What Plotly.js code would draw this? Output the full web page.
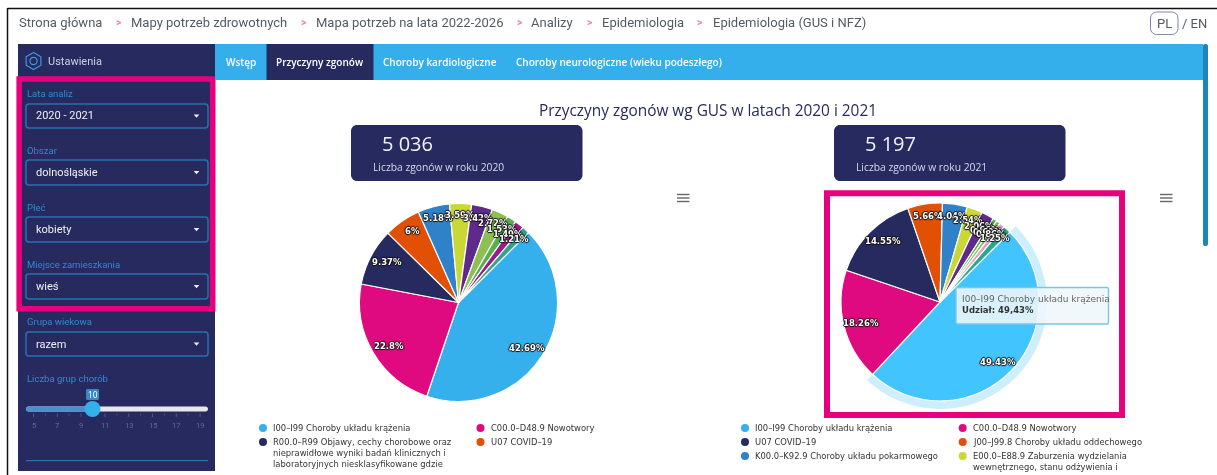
<!DOCTYPE html>
<html><head><meta charset="utf-8">
<script src="https://cdn.plot.ly/plotly-3.0.1.min.js"></script>
<style>html,body{margin:0;padding:0;background:#fff;overflow:hidden}#chart{filter:blur(0.4px)}</style>
</head><body><div id="chart" style="width:1217px;height:475px"></div>
<script>
// ---- data ----
const breadcrumb = ["Strona główna","Mapy potrzeb zdrowotnych","Mapa potrzeb na lata 2022-2026","Analizy","Epidemiologia","Epidemiologia (GUS i NFZ)"];
const tabs = ["Wstęp","Przyczyny zgonów","Choroby kardiologiczne","Choroby neurologiczne (wieku podeszłego)"];
const filterLabels = ["Lata analiz","Obszar","Płeć","Miejsce zamieszkania","Grupa wiekowa"];
const filterValues = ["2020 - 2021","dolnośląskie","kobiety","wieś","razem"];
const sliderTicks = [5,7,9,11,13,15,17,19];
const totals = ["5 036","5 197"];
const totalLabels = ["Liczba zgonów w roku 2020","Liczba zgonów w roku 2021"];
const values2020 = [42.69,22.8,9.37,6,5.18,3.59,3.42,2.72,1.53,1.49,1.21];
const values2021 = [49.43,18.26,14.55,5.66,4.04,2.54,2.06,0.66,0.69,0.86,1.25];
const colors2020 = ["#35b0ec","#df0a7f","#272a5f","#e25005","#2f82c8","#cbd637","#5e2a8c","#8cc152","#55b04d","#9c1a8c","#2ca58d"];
const colors2021 = ["#42c5ff","#df0a7f","#272a5f","#e25005","#2f82c8","#cbd637","#5e2a8c","#55b04d","#8cc152","#d8a0d0","#2ca58d"];
const legend2020 = [["I00–I99 Choroby układu krążenia"],["C00.0–D48.9 Nowotwory"],["R00.0–R99 Objawy, cechy chorobowe oraz","nieprawidłowe wyniki badań klinicznych i","laboratoryjnych niesklasyfikowane gdzie"],["U07 COVID–19"]];
const legend2020Colors = ["#35b0ec","#df0a7f","#272a5f","#e25005"];
const legend2021 = [["I00–I99 Choroby układu krążenia"],["C00.0–D48.9 Nowotwory"],["U07 COVID–19"],["J00–J99.8 Choroby układu oddechowego"],["K00.0–K92.9 Choroby układu pokarmowego"],["E00.0–E88.9 Zaburzenia wydzielania","wewnętrznego, stanu odżywienia i"]];
const legend2021Colors = ["#35b0ec","#df0a7f","#272a5f","#e25005","#2f82c8","#cbd637"];
const tooltipLines = ["I00–I99 Choroby układu krążenia","Udział: 49,43%"];

// ---- page helpers ----
const W=1217,H=475;
const px=x=>x/W, py=y=>1-y/H;
const shapes=[],ann=[];
const NAVY="#272a5f",SKY="#35afec",PINK="#e6007e",BLUE="#2a6fb0";
const ROB="Roboto, sans-serif",OS="'Open Sans', sans-serif",DJ="'DejaVu Sans', sans-serif";
function rect(x0,y0,x1,y1,fill,line,lw){shapes.push({type:'rect',xref:'paper',yref:'paper',x0:px(x0),x1:px(x1),y0:py(y1),y1:py(y0),fillcolor:fill||'rgba(0,0,0,0)',line:{color:line||'rgba(0,0,0,0)',width:lw||0},layer:'below'});}
function rr(x0,y0,x1,y1,r,fill,line,lw,layer){const X=a=>px(a).toFixed(5),Y=a=>py(a).toFixed(5);
 const k=r*0.45;
 const d=`M${X(x0+r)},${Y(y0)}L${X(x1-r)},${Y(y0)}C${X(x1-k)},${Y(y0)} ${X(x1)},${Y(y0+k)} ${X(x1)},${Y(y0+r)}L${X(x1)},${Y(y1-r)}C${X(x1)},${Y(y1-k)} ${X(x1-k)},${Y(y1)} ${X(x1-r)},${Y(y1)}L${X(x0+r)},${Y(y1)}C${X(x0+k)},${Y(y1)} ${X(x0)},${Y(y1-k)} ${X(x0)},${Y(y1-r)}L${X(x0)},${Y(y0+r)}C${X(x0)},${Y(y0+k)} ${X(x0+k)},${Y(y0)} ${X(x0+r)},${Y(y0)}Z`;
 shapes.push({type:'path',xref:'paper',yref:'paper',path:d,fillcolor:fill||'rgba(0,0,0,0)',line:{color:line||'rgba(0,0,0,0)',width:lw||0},layer:layer||'below'});}
function circle(cx,cy,r,fill,line,lw,layer){shapes.push({type:'circle',xref:'paper',yref:'paper',x0:px(cx-r),x1:px(cx+r),y0:py(cy+r),y1:py(cy-r),fillcolor:fill||'rgba(0,0,0,0)',line:{color:line||'rgba(0,0,0,0)',width:lw||0},layer:layer||'below'});}
function seg(x0,y0,x1,y1,color,w,layer){shapes.push({type:'line',xref:'paper',yref:'paper',x0:px(x0),x1:px(x1),y0:py(y0),y1:py(y1),line:{color,width:w},layer:layer||'below'});}
function tri(cx,cy,s,color){const d=`M${px(cx-s)},${py(cy-s*0.55)}L${px(cx+s)},${py(cy-s*0.55)}L${px(cx)},${py(cy+s*0.6)}Z`;shapes.push({type:'path',xref:'paper',yref:'paper',path:d,fillcolor:color,line:{width:0},layer:'below'});}
function T(text,x,y,size,color,family,anchor,weight,shadow){ann.push({text,x:px(x),y:py(y),xref:'paper',yref:'paper',showarrow:false,xanchor:anchor||'left',yanchor:'middle',borderpad:0,font:{size,color,family,weight:weight||400,shadow:shadow||'none'}});}

// ---- frame + breadcrumb ----
seg(7.5,8.5,W,8.5,"#111",1.5);
seg(7.5,8,7.5,H,"#111",1.5);
const crumbX=[18,130,315,530,601,711.5], sepX=[115,300,516,586,696];
breadcrumb.forEach((b,i)=>T(b,crumbX[i],22.5,13,"#555b63",ROB));
sepX.forEach(x=>T(">",x,22.5,10.5,"#ee82b8",ROB,'left',700));
rr(1150.5,12,1178,34.5,6,null,"#7f86ad",1);
T("PL",1164.2,23.5,13,"#555b63",ROB,'center');
T("/ EN",1181,23.5,13,"#555b63",ROB);

// ---- sidebar ----
rect(18,44,215,471,NAVY);
// gear icon: hexagon outline, teeth ring, hub
(function(){const c=[33.5,61];let d="";for(let i=0;i<6;i++){const a=Math.PI/6+i*Math.PI/3;d+=(i?"L":"M")+px(c[0]+8.5*Math.cos(a))+","+py(c[1]+8.5*Math.sin(a));}
 shapes.push({type:'path',xref:'paper',yref:'paper',path:d+"Z",fillcolor:'rgba(0,0,0,0)',line:{color:"#3f97d8",width:1.2},layer:'below'});})();
circle(33.5,61,3.6,null,"#3f97d8",1.2);
T("Ustawienia",47,61.5,11,"#cdd0e4",ROB);
const labY=[93,150,207,264,321], boxY=[[104,128],[160,185],[217,242],[274,299],[332,356]];
filterLabels.forEach((l,i)=>{
 T(l,26,labY[i],9.5,"#2f8ad0",ROB);
 rr(26,boxY[i][0],208,boxY[i][1],3,null,BLUE,1.5);
 T(filterValues[i],35,(boxY[i][0]+boxY[i][1])/2,11,"#f0f0f6",ROB);
 tri(196.5,(boxY[i][0]+boxY[i][1])/2,2.8,"#f0f0f6");
});
T("Liczba grup chorób",26,378,9.5,"#2f8ad0",ROB);
rr(26,406.5,208,411.5,2.5,"#e8e8ea");
rr(26,406.5,92,411.5,2.5,"#4a90d0");
sliderTicks.forEach((t,i)=>{const x=33.5+i*23.8;
 T(String(t),x,425,7.5,"#626c9c",ROB,'center');
 seg(x,413.5,x,417,"#626c9c",0.7);
 if(i<7) seg(x+11.9,413.5,x+11.9,415.5,"#626c9c",0.6);
});
circle(92.5,409,8,SKY);
rr(86,389,99,400,1.5,"#3a86c8");
T("10",92.5,394.7,8.5,"#fff",ROB,'center');
seg(26,460.7,208,460.7,BLUE,1.2);
// pink frame on settings
rect(19.2,79,212.7,308.8,null,PINK,5.6);

// ---- tabs ----
rect(215,44,1203,80,SKY);
rect(266.5,44,373.5,80,NAVY);
rr(1203,44,1208,246,2,"#1f85b8");
const tabX=[241,320,439.5,618.5];
tabs.forEach((t,i)=>T(t,tabX[i],62.5,10,"#fff",OS,'center',600));

// ---- heading + stat boxes ----
T("Przyczyny zgonów wg GUS w latach 2020 i 2021",708,110,15.4,NAVY,OS,'center');
[[351,582.5,381,372],[834,1065.5,864,855]].forEach((b,i)=>{
 rr(b[0],125,b[1],181,6,NAVY);
 T(totals[i],b[2],143,20,"#f2f2f8",OS);
 T(totalLabels[i],b[3],167,10.3,"#d5d8e8",OS);
});
[[677,689.5],[1160,1172.5]].forEach(h=>{[194.5,198,201.5].forEach(y=>seg(h[0],y,h[1],y,"#666",1.4));});

// ---- pies ----
const R=99,C1=[458.5,302.5],C2=[940,302],ROT=45;
const dom=(c,r)=>({x:[px(c[0]-r),px(c[0]+r)],y:[py(c[1]+r),py(c[1]-r)]});
const HALO=107;
const haloColors=values2021.map((v,i)=>i===0?"#cdeefc":"rgba(0,0,0,0)");
const traces=[
 {type:'pie',values:values2021,domain:dom(C2,HALO),hole:R/HALO,sort:false,direction:'clockwise',rotation:ROT,textinfo:'none',hoverinfo:'skip',showlegend:false,marker:{colors:haloColors,line:{width:0}}},
 {type:'pie',values:values2020,domain:dom(C1,R),sort:false,direction:'clockwise',rotation:ROT,textinfo:'none',hoverinfo:'skip',showlegend:false,marker:{colors:colors2020,line:{color:'#fff',width:1.2}}},
 {type:'pie',values:values2021,domain:dom(C2,R),sort:false,direction:'clockwise',rotation:ROT,textinfo:'none',hoverinfo:'skip',showlegend:false,marker:{colors:colors2021,line:{color:'#fff',width:1.2}}}
];
// data labels follow each slice's mid-angle
const OUTLINE="1px 0 1px #111,-1px 0 1px #111,0 1px 1px #111,0 -1px 1px #111";
function labels(vals,c){const tot=vals.reduce((a,b)=>a+b,0);let cum=0;
 vals.forEach(v=>{const a=(ROT+(cum+v/2)/tot*360)*Math.PI/180;cum+=v;
  const s=Math.sin(a),k=Math.cos(a);
  const x=c[0]+R*s*0.98-16*s, y=c[1]-R*k*0.88;
  T(String(v)+"%",x,y,8.5,"#fff",DJ,'center',700,OUTLINE);});}
labels(values2020,C1);labels(values2021,C2);

// ---- legends ----
function legend(items,cols,colX,textX){
 let y=428,i=0;
 while(i<items.length){let maxL=1;
  for(let c=0;c<2&&i+c<items.length;c++){const it=items[i+c];
   circle(colX[c],y,4,cols[i+c],null,0);
   it.forEach((ln,j)=>T(ln,textX[c],y+j*11.2,8.4,"#333",DJ));
   maxL=Math.max(maxL,it.length);}
  y+=14+(maxL-1)*11.2;i+=2;}
}
legend(legend2020,legend2020Colors,[263,480.5],[272,490]);
legend(legend2021,legend2021Colors,[745,962.7],[754,972]);

// ---- tooltip + pink frame on 2021 ----
rr(956,287.5,1108.5,324,1.5,"rgba(238,247,251,0.88)","#7ec4e8",1.4,'above');
T(tooltipLines[0],961,298.7,9,"#666",DJ);
T(tooltipLines[1],961,310,8.5,"#333",DJ,'left',700);
rect(827,193.3,1122,415,null,PINK,6);

Plotly.newPlot('chart',traces,{width:W,height:H,margin:{l:0,r:0,t:0,b:0},paper_bgcolor:'#fff',plot_bgcolor:'#fff',showlegend:false,shapes,annotations:ann},{displayModeBar:false,staticPlot:true});
</script></body></html>
